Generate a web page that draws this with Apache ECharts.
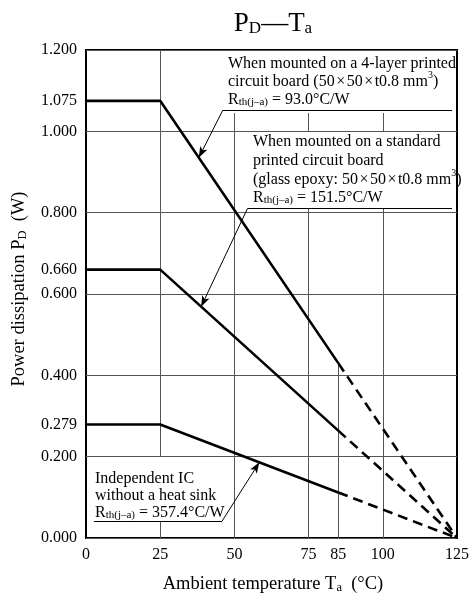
<!DOCTYPE html>
<html><head><meta charset="utf-8">
<script src="https://cdn.jsdelivr.net/npm/echarts@6/dist/echarts.min.js"></script>
<style>html,body{margin:0;padding:0;background:#fff}#c{width:472px;height:599px}</style>
</head><body><div id="c"></div>
<script>
// ---- data ----
const temps = [0, 25, 85, 125];
const pd4Layer = [1.075, 1.075, 0.430, 0.000];
const pdStandard = [0.660, 0.660, 0.264, 0.000];
const pdNoSink = [0.279, 0.279, 0.112, 0.000];
const xTicks = [0, 25, 50, 75, 85, 100, 125];
const yTicks = [0, 0.2, 0.279, 0.4, 0.6, 0.66, 0.8, 1.0, 1.075, 1.2];

const F = '"Liberation Serif", "Times New Roman", serif';
const pts = arr => temps.map((t, i) => [t, arr[i]]);
const solid = arr => pts(arr).slice(0, 3);
const dashed = arr => pts(arr).slice(2);
function valAt(arr, x) {
  for (let i = 0; i < temps.length - 1; i++) {
    if (x >= temps[i] && x <= temps[i + 1]) {
      const f = (x - temps[i]) / (temps[i + 1] - temps[i]);
      return arr[i] + f * (arr[i + 1] - arr[i]);
    }
  }
  return 0;
}

// annotation layout (data coords)
const u1 = { y: 1.052, x0: 46.1, x1: 123.3, tx: 38.0 };
const u2 = { y: 0.810, x0: 54.4, x1: 123.3, tx: 38.8 };
const u3 = { y: 0.041, x0: 2.65, x1: 45.8, tx: 58.4 };

const seg = (x0, y0, x1, y1) => [{ coord: [x0, y0] }, { coord: [x1, y1] }];

const gridSegs = [
  seg(25, 0.2, 25, 1.2), seg(25, 0, 25, u3.y),
  seg(50, 0, 50, 1.045),
  seg(75, 0, 75, u2.y), seg(75, 1.0, 75, 1.045),
  seg(100, 0, 100, u2.y), seg(100, 1.0, 100, 1.045),
  seg(85, 0, 85, pd4Layer[2])
];
const underlines = [
  seg(u1.x0, u1.y, u1.x1, u1.y),
  seg(u2.x0, u2.y, u2.x1, u2.y),
  seg(u3.x0, u3.y, u3.x1, u3.y)
];
const arrows = [
  seg(u1.x0, u1.y, u1.tx, valAt(pd4Layer, u1.tx)),
  seg(u2.x0, u2.y, u2.tx, valAt(pdStandard, u2.tx)),
  seg(u3.x1, u3.y, u3.tx, valAt(pdNoSink, u3.tx))
];

const curveStyle = { color: '#000', width: 2.6 };
function curve(arr) {
  return [
    { type: 'line', data: solid(arr), symbol: 'none', lineStyle: curveStyle, z: 5, silent: true },
    { type: 'line', data: dashed(arr), symbol: 'none', lineStyle: Object.assign({ type: [10, 6] }, curveStyle), z: 5, silent: true }
  ];
}

const rich = {
  m: { fontFamily: F, fontSize: 16, lineHeight: 19, color: '#000', verticalAlign: 'bottom' },
  x: { fontFamily: F, fontSize: 16, lineHeight: 19, color: '#000', verticalAlign: 'bottom', padding: [0, 1.5, 0, 1.5] },
  s: { fontFamily: F, fontSize: 11, lineHeight: 9, color: '#000', verticalAlign: 'bottom' },
  u: { fontFamily: F, fontSize: 10, lineHeight: 10, color: '#000', verticalAlign: 'top' }
};
function t(x, y, text) {
  return {
    type: 'text', x: x, y: y, z: 10,
    style: { text: text, fontFamily: F, fontSize: 16, fill: '#000', verticalAlign: 'middle', align: 'left', rich: rich }
  };
}
const bigRich = {
  m: { fontFamily: F, fontSize: 18.5, lineHeight: 22, color: '#000', verticalAlign: 'bottom' },
  s: { fontFamily: F, fontSize: 12.5, lineHeight: 11, color: '#000', verticalAlign: 'bottom' }
};
const titleRich = {
  m: { fontFamily: F, fontSize: 27, lineHeight: 30, color: '#000', verticalAlign: 'bottom' },
  s: { fontFamily: F, fontSize: 17, lineHeight: 14, color: '#000', verticalAlign: 'bottom' }
};
const dims = '50}{x|×}{m|50}{x|×}{m|t0.8 mm}{u|3}{m|)';

const graphics = [
  { type: 'text', x: 273, y: 22, style: { text: '{m|P}{s|D}{m|—T}{s|a}', align: 'center', verticalAlign: 'middle', rich: titleRich } },
  { type: 'text', x: 18, y: 289, rotation: Math.PI / 2, style: { text: '{m|Power dissipation P}{s|D}{m|  (W)}', align: 'center', verticalAlign: 'middle', rich: bigRich } },
  { type: 'text', x: 273, y: 583, style: { text: '{m|Ambient temperature T}{s|a}{m|  (°C)}', align: 'center', verticalAlign: 'middle', rich: bigRich } },
  t(228, 62, '{m|When mounted on a 4-layer printed}'),
  t(228, 80, '{m|circuit board (' + dims + '}'),
  t(228, 98, '{m|R}{s|th(j–a)}{m| = 93.0°C/W}'),
  t(253, 140, '{m|When mounted on a standard}'),
  t(253, 159, '{m|printed circuit board}'),
  t(253, 178, '{m|(glass epoxy: ' + dims + '}'),
  t(253, 196, '{m|R}{s|th(j–a)}{m| = 151.5°C/W}'),
  t(95, 477, '{m|Independent IC}'),
  t(95, 494, '{m|without a heat sink}'),
  t(95, 511, '{m|R}{s|th(j–a)}{m| = 357.4°C/W}')
];

const chart = echarts.init(document.getElementById('c'), null, { renderer: 'canvas' });
chart.setOption({
  animation: false,
  backgroundColor: '#fff',
  grid: { left: 86, right: 9, top: 50, bottom: 61, show: true, borderColor: '#000', borderWidth: 2, backgroundColor: 'transparent' },
  xAxis: {
    type: 'value', min: 0, max: 125,
    axisLine: { show: false }, axisTick: { show: false }, splitLine: { show: false },
    axisLabel: { customValues: xTicks, fontFamily: F, fontSize: 16, color: '#000', margin: 9 }
  },
  yAxis: {
    type: 'value', min: 0, max: 1.2, interval: 0.2,
    axisLine: { show: false }, axisTick: { show: false },
    splitLine: { show: true, lineStyle: { color: '#555', width: 1 } },
    axisLabel: { customValues: yTicks, fontFamily: F, fontSize: 16, color: '#000', margin: 9, formatter: v => v.toFixed(3) }
  },
  series: [
    {
      type: 'line', data: [], z: 1, silent: true,
      markLine: { silent: true, animation: false, symbol: ['none', 'none'], label: { show: false },
        lineStyle: { color: '#555', width: 1, type: 'solid' }, data: gridSegs }
    },
    {
      type: 'line', data: [], z: 6, silent: true,
      markLine: { silent: true, animation: false, symbol: ['none', 'none'], label: { show: false },
        lineStyle: { color: '#000', width: 1.2, type: 'solid' }, data: underlines }
    },
    {
      type: 'line', data: [], z: 6, silent: true,
      markLine: { silent: true, animation: false, symbol: ['none', 'arrow'], symbolSize: [6, 11], label: { show: false },
        lineStyle: { color: '#000', width: 1, type: 'solid' }, data: arrows }
    },
    ...curve(pd4Layer), ...curve(pdStandard), ...curve(pdNoSink)
  ],
  graphic: graphics
});
</script></body></html>
